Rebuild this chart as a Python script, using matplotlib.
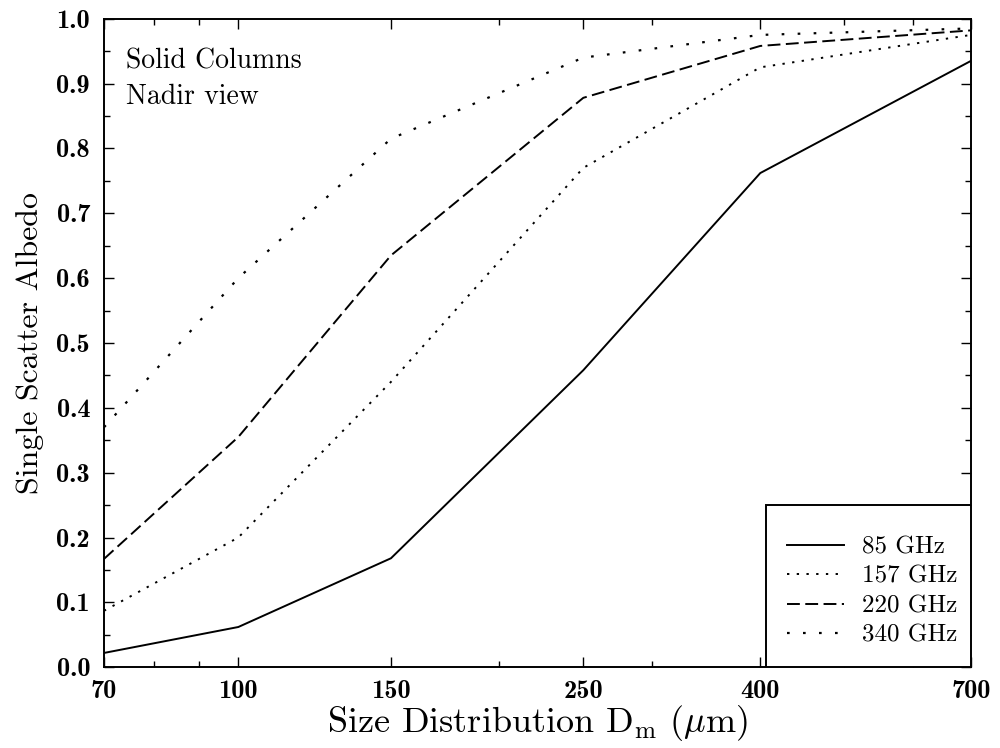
import numpy as np
import matplotlib
matplotlib.use('Agg')
import matplotlib.pyplot as plt
from matplotlib.patches import Rectangle
from matplotlib.ticker import FixedLocator, FixedFormatter, NullFormatter, MultipleLocator, FormatStrFormatter

plt.rcParams['font.family'] = 'cmr10'
plt.rcParams['mathtext.fontset'] = 'cm'
plt.rcParams['axes.formatter.use_mathtext'] = True

# mean particle size (um) and albedo per frequency
sizes = [70, 100, 150, 250, 400, 700]
alb_85 = [0.022, 0.062, 0.168, 0.458, 0.762, 0.935]
alb_157 = [0.087, 0.200, 0.440, 0.770, 0.925, 0.975]
alb_220 = [0.167, 0.355, 0.635, 0.878, 0.958, 0.982]
alb_340 = [0.370, 0.600, 0.815, 0.940, 0.975, 0.985]

x_major = [70, 100, 150, 250, 400, 700]
x_minor = [80, 90, 200, 300, 500, 600]

fig = plt.figure(figsize=(10, 7.48), dpi=100)
ax = fig.add_axes([0.104, 0.108, 0.867, 0.867])

ax.plot(sizes, alb_85, color='black', lw=1.4, ls='-', label='85 GHz')
ax.plot(sizes, alb_157, color='black', lw=1.4, ls=(0, (1.2, 3.8)), label='157 GHz')
ax.plot(sizes, alb_220, color='black', lw=1.4, ls=(0, (6.6, 2.8)), label='220 GHz')
ax.plot(sizes, alb_340, color='black', lw=1.6, ls=(0, (1.2, 6)), label='340 GHz')

ax.set_xscale('log')
ax.set_xlim(70, 700)
ax.set_ylim(0, 1.0)
ax.xaxis.set_major_locator(FixedLocator(x_major))
ax.xaxis.set_major_formatter(FixedFormatter([str(v) for v in x_major]))
ax.xaxis.set_minor_locator(FixedLocator(x_minor))
ax.xaxis.set_minor_formatter(NullFormatter())
ax.yaxis.set_major_locator(MultipleLocator(0.1))
ax.yaxis.set_minor_locator(MultipleLocator(0.05))
ax.yaxis.set_major_formatter(FormatStrFormatter('%.1f'))

ax.tick_params(which='both', direction='in', top=True, right=True, width=1.0)
ax.tick_params(which='major', length=7, labelsize=19)
ax.tick_params(which='minor', length=4)
ax.tick_params(axis='y', which='major', pad=10)
ax.tick_params(axis='x', which='major', pad=9)
for lab in ax.get_xticklabels() + ax.get_yticklabels():
    lab.set_fontfamily('cmb10')
for sp in ax.spines.values():
    sp.set_linewidth(1.4)

ax.set_xlabel(r'Size Distribution D$_{\mathrm{m}}$ ($\mu$m)', fontsize=26, labelpad=0)
ax.set_ylabel('Single Scatter Albedo', fontsize=23, labelpad=9)

ax.text(0.025, 0.955, 'Solid Columns\nNadir view', transform=ax.transAxes,
        fontsize=20, va='top', ha='left', linespacing=1.45)

# legend box sits in the lower right corner, flush with the spines
ax.add_patch(Rectangle((0.7636, 0.0), 0.2364, 0.25, transform=ax.transAxes,
                       facecolor='white', edgecolor='black', lw=1.4, zorder=4))
leg = ax.legend(loc='center', bbox_to_anchor=(0.886, 0.117), fontsize=18,
                handlelength=2.3, handletextpad=0.7, borderpad=0,
                labelspacing=0.28, frameon=False)
leg.set_zorder(5)

fig.savefig('out.png', dpi=100)
